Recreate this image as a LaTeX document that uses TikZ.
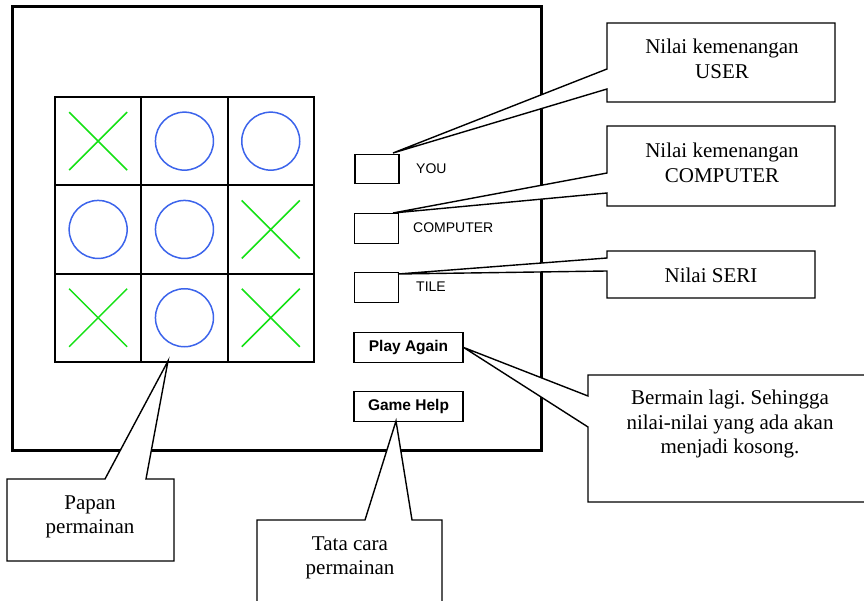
\documentclass[tikz,border=0pt]{standalone}
\usepackage{fontspec}
\setmainfont{Liberation Serif}
\setsansfont{Liberation Sans}
\usetikzlibrary{calc}
\definecolor{xgreen}{RGB}{20,225,20}
\definecolor{oblue}{RGB}{60,100,235}
\tikzset{
  frame/.style={line width=3pt},
  cellbox/.style={draw, line width=2pt, minimum width=86.3pt, minimum height=88.3pt, inner sep=0pt, anchor=north west},
  smallbox/.style={draw, line width=1.4pt, minimum width=44pt, minimum height=29.5pt, inner sep=0pt},
  btn/.style={draw, line width=1.4pt, minimum width=109pt, minimum height=29.5pt, inner sep=0pt, font=\sffamily\bfseries\fontsize{15.5}{18}\selectfont},
  lbl/.style={anchor=west, inner sep=0pt, font=\sffamily\fontsize{14}{16}\selectfont},
  callout/.style={draw, line width=1.4pt, fill=white, line join=miter},
  ctext/.style={align=center, inner sep=0pt, font=\frenchspacing\fontsize{21}{24.5}\selectfont},
  xmark/.style={draw=xgreen, line width=1.5pt},
  omark/.style={draw=oblue, line width=1.5pt},
}
\newcommand{\xm}[1]{\draw[xmark] ($(#1)+(-29,-29)$) -- ($(#1)+(29,29)$) ($(#1)+(-29,29)$) -- ($(#1)+(29,-29)$);}
\newcommand{\om}[1]{\draw[omark] (#1) circle[radius=29];}
\begin{document}
\frenchspacing
\begin{tikzpicture}[x=1pt,y=-1pt]
\useasboundingbox (0,0) rectangle (864,601);
\clip (0,0) rectangle (864,601);
% main window
\draw[frame] (12,7) rectangle (541,450);
% grid
\foreach \c [count=\i from 0] in {a,b,c}{
  \foreach \r [count=\j from 0] in {1,2,3}{
    \node[cellbox] (\c\r) at ({54+86.3*\i},{96+88.3*\j}) {};
  }
}
% marks
\xm{a1} \om{b1} \om{c1}
\om{a2} \om{b2} \xm{c2}
\xm{a3} \om{b3} \xm{c3}
% score boxes and labels
\node[smallbox] (you) at (377,169) {};
\node[smallbox] (comp) at (376.5,228.5) {};
\node[smallbox] (tile) at (376.5,287.5) {};
\node[lbl] (lyou) at (416,169) {YOU};
\node[lbl] (lcomp) at (413,228) {COMPUTER};
\node[lbl] (ltile) at (416,287) {TILE};
% buttons
\node[btn] (play) at (408.5,347.5) {Play Again};
\node[btn] (help) at (408.5,406.5) {Game Help};
% pointer tips
\coordinate (tyou) at (393,153);
\coordinate (tcomp) at (393,213);
\coordinate (ttile) at (398,274);
\coordinate (tplay) at (play.east);
\coordinate (thelp) at (396,421);
\coordinate (tgrid) at (168,361);
% callouts
\draw[callout] (607,23) -- (835,23) -- (835,102) -- (607,102) -- (607,89) -- (tyou) -- (607,69) -- cycle;
\node[ctext] (cuser) at (722,59) {Nilai kemenangan\\USER};
\draw[callout] (607,126) -- (835,126) -- (835,206) -- (607,206) -- (607,193) -- (tcomp) -- (607,173) -- cycle;
\node[ctext] (ccomp) at (722,163) {Nilai kemenangan\\COMPUTER};
\draw[callout] (607,251) -- (815,251) -- (815,298) -- (607,298) -- (607,271) -- (ttile) -- (607,258) -- cycle;
\node[ctext] (cseri) at (711,275) {Nilai SERI};
\draw[callout] (588,375) -- (890,375) -- (890,502) -- (588,502) -- (588,427) -- (tplay) -- (588,396) -- cycle;
\node[ctext] (cplay) at (730,424) {Bermain lagi. Sehingga\\nilai-nilai yang ada akan\\menjadi kosong.};
\draw[callout] (7,479) -- (105,479) -- (tgrid) -- (146,479) -- (174,479) -- (174,561) -- (7,561) -- cycle;
\node[ctext] (cgrid) at (90,517) {Papan\\permainan};
\draw[callout] (257,520) -- (365,520) -- (thelp) -- (412,520) -- (442,520) -- (442,640) -- (257,640) -- cycle;
\node[ctext] (chelp) at (350,558) {Tata cara\\permainan};
\end{tikzpicture}
\end{document}
